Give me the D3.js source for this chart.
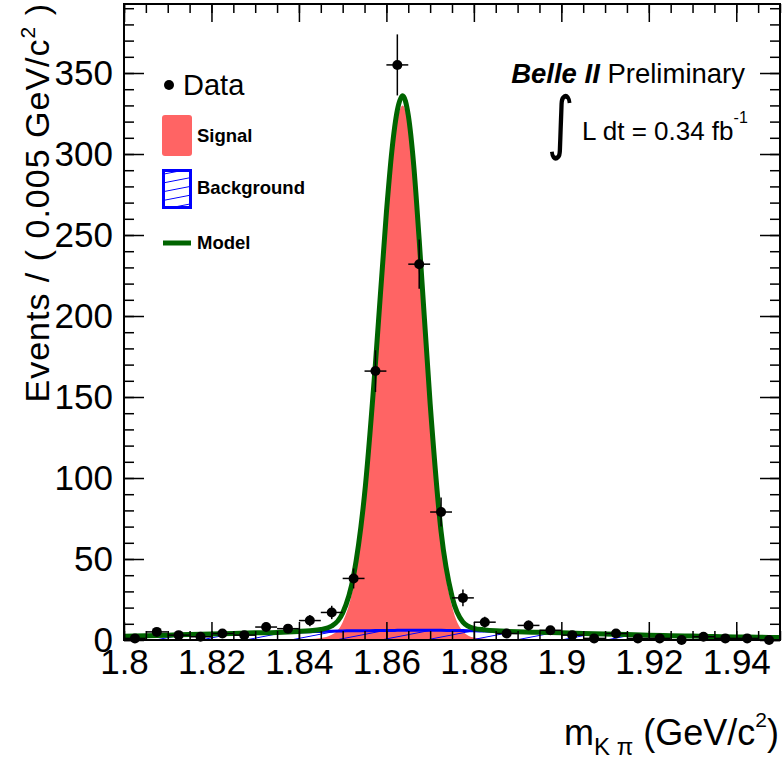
<!DOCTYPE html>
<html>
<head>
<meta charset="utf-8">
<script src="https://cdn.jsdelivr.net/npm/d3@7"></script>
<style>
body { margin: 0; background: #fff; }
svg { display: block; font-family: "Liberation Sans", Arial, Helvetica, sans-serif; }
</style>
</head>
<body>
<svg id="chart" width="783" height="760"></svg>
<script>
// binned data (0.005 GeV bins)
const binCenters = [1.8025, 1.8075, 1.8125, 1.8175, 1.8225, 1.8275, 1.8325, 1.8375, 1.8425, 1.8475,
    1.8525, 1.8575, 1.8625, 1.8675, 1.8725, 1.8775, 1.8825, 1.8875, 1.8925, 1.8975,
    1.9025, 1.9075, 1.9125, 1.9175, 1.9225, 1.9275, 1.9325, 1.9375, 1.9425, 1.9475]
const counts = [1, 5, 3, 2, 4, 3, 8, 7, 12, 17,
    38, 166, 355, 232, 79, 26, 11, 4, 9, 6,
    3, 1, 4, 1, 1, 0, 2, 1, 1, 0]
const binWidth = 0.005

// fit components
const curveMass = [1.800, 1.805, 1.810, 1.815, 1.820, 1.825, 1.830, 1.835, 1.8375, 1.840,
    1.8425, 1.845, 1.8475, 1.850, 1.8525, 1.855, 1.8575, 1.860, 1.86125, 1.8625,
    1.8637, 1.865, 1.86625, 1.8675, 1.870, 1.8725, 1.875, 1.8775, 1.880, 1.8825,
    1.885, 1.8875, 1.890, 1.895, 1.900, 1.905, 1.910, 1.915, 1.920, 1.925,
    1.930, 1.935, 1.940, 1.945, 1.950]
const signalCurve = [0, 0, 0, 0, 0, 0, 0, 0, 0.1, 0.3,
    0.6, 1.2, 3.2, 11, 34, 84, 165, 258, 296, 321,
    330, 318, 287, 241, 140, 61, 21, 5.3, 1.5, 0.7,
    0.3, 0.1, 0, 0, 0, 0, 0, 0, 0, 0,
    0, 0, 0, 0, 0]
const backgroundCurve = [2.3, 2.65, 3.0, 3.35, 3.7, 4.05, 4.4, 4.7, 4.85, 5.0,
    5.15, 5.3, 5.45, 5.6, 5.7, 5.75, 5.8, 5.9, 5.9, 5.95,
    5.95, 5.95, 6.0, 6.0, 6.0, 5.95, 5.9, 5.8, 5.7, 5.55,
    5.4, 5.25, 5.1, 4.75, 4.4, 4.05, 3.7, 3.35, 3.0, 2.7,
    2.4, 2.15, 1.9, 1.7, 1.5]

const xMajor = [1.8, 1.82, 1.84, 1.86, 1.88, 1.9, 1.92, 1.94]
const yMajor = [0, 50, 100, 150, 200, 250, 300, 350]

const signalColor = "#ff6464"
const bkgColor = "#0000ff"
const modelColor = "#006400"
const font = '"Liberation Sans", Arial, Helvetica, sans-serif'

const svg = d3.select("#chart")

const x = d3.scaleLinear().domain([1.8, 1.95]).range([124, 780])
const y = d3.scaleLinear().domain([0, 392.6]).range([640, 4])

const defs = svg.append("defs")
const hatch = defs.append("pattern")
    .attr("id", "hatch")
    .attr("patternUnits", "userSpaceOnUse")
    .attr("width", 40)
    .attr("height", 8.6)
    .attr("patternTransform", "rotate(-11)")
hatch.append("line")
    .attr("x1", 0).attr("x2", 40)
    .attr("y1", 4.3).attr("y2", 4.3)
    .attr("stroke", bkgColor)
    .attr("stroke-width", 1)

const curve = curveMass.map((m, i) => ({m: m, s: signalCurve[i], b: backgroundCurve[i]}))

// signal (drawn from zero)
svg.append("path")
    .datum(curve)
    .attr("d", d3.area().x(d => x(d.m)).y0(y(0)).y1(d => y(d.s)).curve(d3.curveMonotoneX))
    .attr("fill", signalColor)

// background hatch + outline
svg.append("path")
    .datum(curve)
    .attr("d", d3.area().x(d => x(d.m)).y0(y(0)).y1(d => y(d.b)).curve(d3.curveMonotoneX))
    .attr("fill", "url(#hatch)")
svg.append("path")
    .datum(curve)
    .attr("d", d3.line().x(d => x(d.m)).y(d => y(d.b)).curve(d3.curveMonotoneX))
    .attr("fill", "none")
    .attr("stroke", bkgColor)
    .attr("stroke-width", 3)

// total model
svg.append("path")
    .datum(curve)
    .attr("d", d3.line().x(d => x(d.m)).y(d => y(d.s + d.b)).curve(d3.curveMonotoneX))
    .attr("fill", "none")
    .attr("stroke", modelColor)
    .attr("stroke-width", 5)
    .attr("stroke-linejoin", "round")

// data points
const data = binCenters.map((c, i) => ({c: c, n: counts[i], e: Math.sqrt(counts[i])}))
const pts = svg.append("g")
pts.selectAll(".ey").data(data).enter().append("line")
    .attr("x1", d => x(d.c)).attr("x2", d => x(d.c))
    .attr("y1", d => y(Math.max(0, d.n - d.e))).attr("y2", d => y(d.n + d.e))
    .attr("stroke", "#000").attr("stroke-width", 1.5)
pts.selectAll(".ex").data(data).enter().append("line")
    .attr("x1", d => x(d.c - binWidth / 2)).attr("x2", d => x(d.c + binWidth / 2))
    .attr("y1", d => y(d.n)).attr("y2", d => y(d.n))
    .attr("stroke", "#000").attr("stroke-width", 1.5)
pts.selectAll("circle").data(data).enter().append("circle")
    .attr("cx", d => x(d.c)).attr("cy", d => y(d.n))
    .attr("r", 5).attr("fill", "#000")

// axes
const xMinor = d3.range(0, 31).map(i => +(1.8 + i * 0.005).toFixed(3))
const yMinor = d3.range(0, 40).map(i => i * 10)

function styleAxis(g) {
    g.select(".domain").remove()
    g.selectAll(".tick line").attr("stroke", "#000").attr("stroke-width", 1.5)
    g.selectAll("text").attr("fill", "#000")
        .style("font-size", "35px").style("font-family", font)
}

svg.append("g").attr("transform", "translate(0,640)")
    .call(d3.axisBottom(x).tickValues(xMajor).tickSize(-18).tickPadding(9).tickFormat(d => +d.toFixed(2)))
    .call(styleAxis)
svg.append("g").attr("transform", "translate(0,640)")
    .call(d3.axisBottom(x).tickValues(xMinor).tickSize(-9).tickFormat(""))
    .call(styleAxis)
svg.append("g").attr("transform", "translate(0,4)")
    .call(d3.axisTop(x).tickValues(xMajor).tickSize(-18).tickFormat(""))
    .call(styleAxis)
svg.append("g").attr("transform", "translate(0,4)")
    .call(d3.axisTop(x).tickValues(xMinor).tickSize(-9).tickFormat(""))
    .call(styleAxis)

svg.append("g").attr("transform", "translate(124,0)")
    .call(d3.axisLeft(y).tickValues(yMajor).tickSize(-20).tickPadding(11).tickFormat(d3.format("d")))
    .call(styleAxis)
svg.append("g").attr("transform", "translate(124,0)")
    .call(d3.axisLeft(y).tickValues(yMinor).tickSize(-10).tickFormat(""))
    .call(styleAxis)
svg.append("g").attr("transform", "translate(780,0)")
    .call(d3.axisRight(y).tickValues(yMajor).tickSize(-20).tickFormat(""))
    .call(styleAxis)
svg.append("g").attr("transform", "translate(780,0)")
    .call(d3.axisRight(y).tickValues(yMinor).tickSize(-10).tickFormat(""))
    .call(styleAxis)

svg.append("rect")
    .attr("x", 124).attr("y", 4).attr("width", 656).attr("height", 636)
    .attr("fill", "none").attr("stroke", "#000").attr("stroke-width", 2)

// axis titles
const yTitle = svg.append("text")
    .attr("transform", "translate(49,3) rotate(-90)")
    .attr("text-anchor", "end")
    .style("font-size", "34px")
    .style("letter-spacing", "1px")
yTitle.append("tspan").text("Events / ( 0.005 GeV/c")
yTitle.append("tspan").attr("dy", -14).style("font-size", "21px").text("2")
yTitle.append("tspan").attr("dy", 14).text(" )")

const xTitle = svg.append("text")
    .attr("x", 779).attr("y", 745)
    .attr("text-anchor", "end")
    .style("font-size", "36px")
xTitle.append("tspan").text("m")
xTitle.append("tspan").attr("dy", 10).style("font-size", "24px").text("K \u03c0")
xTitle.append("tspan").attr("dy", -10).text(" (GeV/c")
xTitle.append("tspan").attr("dy", -18).style("font-size", "21px").text("2")
xTitle.append("tspan").attr("dy", 18).text(")")

// legend
svg.append("circle").attr("cx", 169).attr("cy", 85).attr("r", 5).attr("fill", "#000")
svg.append("text").attr("x", 183).attr("y", 95).style("font-size", "29px").text("Data")

svg.append("rect").attr("x", 162).attr("y", 115).attr("width", 30).attr("height", 41)
    .attr("rx", 3).attr("fill", signalColor)
svg.append("text").attr("x", 197).attr("y", 142).style("font-size", "18.5px")
    .style("font-weight", "bold").text("Signal")

svg.append("rect").attr("x", 163.5).attr("y", 170.5).attr("width", 27).attr("height", 37)
    .attr("fill", "url(#hatch)").attr("stroke", bkgColor).attr("stroke-width", 3)
svg.append("text").attr("x", 197).attr("y", 194).style("font-size", "18.5px")
    .style("font-weight", "bold").text("Background")

svg.append("line").attr("x1", 163).attr("x2", 191).attr("y1", 243).attr("y2", 243)
    .attr("stroke", modelColor).attr("stroke-width", 5)
svg.append("text").attr("x", 197).attr("y", 249).style("font-size", "18.5px")
    .style("font-weight", "bold").text("Model")

// experiment label
const belle = svg.append("text").attr("x", 745).attr("y", 83)
    .attr("text-anchor", "end").style("font-size", "27.5px")
belle.append("tspan").style("font-weight", "bold").style("font-style", "italic").text("Belle II")
belle.append("tspan").text(" Preliminary")

svg.append("text").attr("x", 547).attr("y", 146)
    .attr("transform", "translate(547,146) scale(1.15,1.5) translate(-547,-146)")
    .style("font-family", "'DejaVu Sans', sans-serif")
    .style("font-size", "46px").text("\u222b")
const lumi = svg.append("text").attr("x", 582).attr("y", 140).style("font-size", "26px")
lumi.append("tspan").text("L dt = 0.34 fb")
lumi.append("tspan").attr("dy", -17).style("font-size", "16px").text("-1")
</script>
</body>
</html>
